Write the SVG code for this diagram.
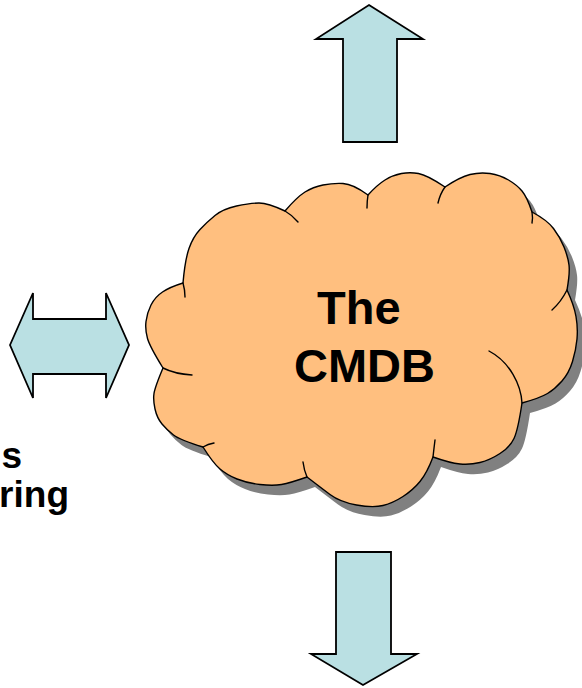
<svg xmlns="http://www.w3.org/2000/svg" width="582" height="688" viewBox="0 0 582 688">
  <style>
    .arrow { fill: #BAE0E3; stroke: #000; stroke-width: 1.8; stroke-linejoin: miter; }
    .cloud { fill: #FFBF7F; stroke: #000; stroke-width: 1.4; stroke-linejoin: round; }
    .seam { fill: none; stroke: #000; stroke-width: 1.4; stroke-linecap: round; }
    .shadow { fill: #808080; }
    .label { font-family: "Liberation Sans", Arial, sans-serif; font-weight: bold; fill: #000; }
  </style>
  <defs>
    <path id="cloudOutline" d="M183,283 Q185,260 189,248.5 Q193,237 200,229.5 Q207,222 215,215.5 Q223,209 236.5,206 Q250,203 259,203 Q268,203 285,211
      Q297,197 305,192 Q313,187 323,185 Q333,183 343,183.5 Q353,184 368,195
      Q377,185 385,180 Q393,175 401.5,173.5 Q410,172 418.5,173.5 Q427,175 445,187
      Q460,177 470,174.5 Q480,172 490,173.5 Q500,175 508.5,180 Q517,185 522,191 Q527,197 532,212
      Q547,220 553.5,228.5 Q560,237 564,247 Q568,257 569,265 Q570,273 567,290
      Q574,305 576,316.5 Q578,328 577,339 Q576,350 572.5,361.5 Q569,373 562,381 Q555,389 547.5,393.5 Q540,398 522,403
      Q518,430 514,438.5 Q510,447 500,453.5 Q490,460 480,462.5 Q470,465 460,464 Q450,463 433,457
      Q427,473 420,481.5 Q413,490 403,496.5 Q393,503 383,505.5 Q373,508 356.5,505 Q340,502 330,494.5 Q320,487 307,477
      Q290,483 281.5,484.5 Q273,486 260,484.5 Q247,483 237,479 Q227,475 220,469 Q213,463 203,447
      Q180,440 173.5,435 Q167,430 162,424 Q157,418 155,409 Q153,400 154,393.5 Q155,387 163,368
      Q150,347 147.5,338.5 Q145,330 146,321.5 Q147,313 151,305 Q155,297 162.5,292 Q170,287 183,283 Z"/>
  </defs>

  <!-- arrow pointing up, above the cloud -->
  <g id="arrow-up">
    <polygon class="arrow" points="369,5 423,39 397,39 397,142 343,142 343,39 316,39"/>
  </g>

  <!-- arrow pointing down, below the cloud -->
  <g id="arrow-down">
    <polygon class="arrow" points="336,552 391,552 391,654 417,654 363,685 311,654 336,654"/>
  </g>

  <!-- two-way arrow on the left -->
  <g id="arrow-both">
    <polygon class="arrow" points="10,345 33,293 33,319 106,319 106,293 129,345 106,398 106,374 33,374 33,398"/>
  </g>

  <!-- left label -->
  <g id="left-label">
    <text class="label" font-size="37" x="22" y="468" text-anchor="end">s</text>
    <text class="label" font-size="37" x="69" y="507" text-anchor="end">ring</text>
  </g>

  <!-- the central cloud -->
  <g id="cmdb">
    <use href="#cloudOutline" class="shadow" transform="translate(8,10)"/>
    <use href="#cloudOutline" class="cloud"/>
    <g class="seams">
      <path class="seam" d="M183,283 Q185,290 185,297"/>
      <path class="seam" d="M285,211 Q292,215 298,222"/>
      <path class="seam" d="M368,195 Q367,201 367,208"/>
      <path class="seam" d="M445,187 Q440,194 438,203"/>
      <path class="seam" d="M532,212 Q533,218 532,223"/>
      <path class="seam" d="M567,290 Q561,302 552,310"/>
      <path class="seam" d="M522,403 C521,385 510,362 489,351"/>
      <path class="seam" d="M433,457 Q434,448 435,440"/>
      <path class="seam" d="M307,477 Q304,470 303,462"/>
      <path class="seam" d="M203,447 Q208,444 214,443"/>
      <path class="seam" d="M163,368 Q175,374 192,375"/>
    </g>
    <text class="label" font-size="47" x="317" y="324">The</text>
    <text class="label" font-size="47" x="294" y="382">CMDB</text>
  </g>
</svg>
